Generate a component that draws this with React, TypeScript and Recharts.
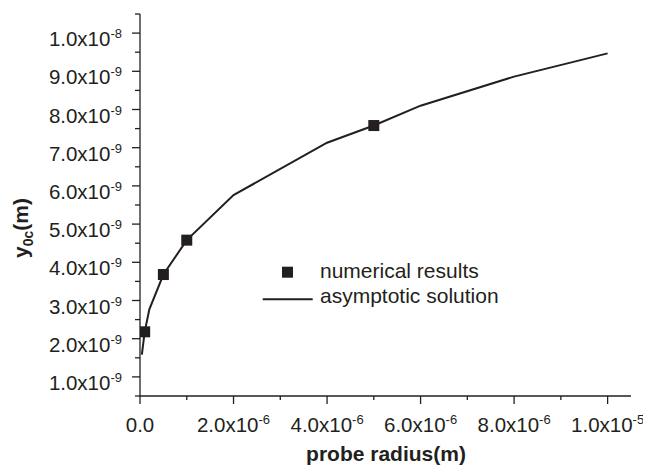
import React from "react";
import {
  ComposedChart,
  Line,
  Scatter,
  XAxis,
  YAxis,
  Legend,
} from "recharts";

// asymptotic solution (probe radius in m, y0c in m)
const asymRadius = [4e-8, 1e-7, 2e-7, 5e-7, 1e-6, 2e-6, 4e-6, 5e-6, 6e-6, 8e-6, 1e-5];
const asymY0c = [1.58e-9, 2.18e-9, 2.77e-9, 3.68e-9, 4.58e-9, 5.76e-9, 7.13e-9, 7.58e-9, 8.1e-9, 8.86e-9, 9.47e-9];

// numerical results
const numRadius = [1e-7, 5e-7, 1e-6, 5e-6];
const numY0c = [2.18e-9, 3.68e-9, 4.58e-9, 7.58e-9];

const xTicks = [0, 1e-6, 2e-6, 3e-6, 4e-6, 5e-6, 6e-6, 7e-6, 8e-6, 9e-6, 1e-5];
const xTickLabels: (string[] | null)[] = [
  ["0.0", ""], null, ["2.0x10", "-6"], null, ["4.0x10", "-6"], null,
  ["6.0x10", "-6"], null, ["8.0x10", "-6"], null, ["1.0x10", "-5"],
];

const yTicks = [
  5e-10, 1e-9, 1.5e-9, 2e-9, 2.5e-9, 3e-9, 3.5e-9, 4e-9, 4.5e-9, 5e-9, 5.5e-9,
  6e-9, 6.5e-9, 7e-9, 7.5e-9, 8e-9, 8.5e-9, 9e-9, 9.5e-9, 1e-8, 1.05e-8,
];
const yTickLabels: (string[] | null)[] = [
  null, ["1.0x10", "-9"], null, ["2.0x10", "-9"], null, ["3.0x10", "-9"], null,
  ["4.0x10", "-9"], null, ["5.0x10", "-9"], null, ["6.0x10", "-9"], null,
  ["7.0x10", "-9"], null, ["8.0x10", "-9"], null, ["9.0x10", "-9"], null,
  ["1.0x10", "-8"], null,
];

const INK = "#231f20";
const FONT = "'Liberation Sans', Arial, Helvetica, sans-serif";

const asymData = asymRadius.map((x, i) => ({ x, y: asymY0c[i] }));
const numData = numRadius.map((x, i) => ({ x, y: numY0c[i] }));

const YTick = (props: any) => {
  const { x, y, index } = props;
  const lab = yTickLabels[index];
  return (
    <g>
      <line x1={x - (lab ? 8 : 5)} x2={x} y1={y} y2={y} stroke={INK} strokeWidth={1.3} />
      {lab && (
        <text x={x - 18} y={y + 13} textAnchor="end" fontSize={20.5} fill={INK} fontFamily={FONT}>
          {lab[0]}
          <tspan fontSize={13} dy={-8}>{lab[1]}</tspan>
        </text>
      )}
    </g>
  );
};

const XTick = (props: any) => {
  const { x, y, index } = props;
  const lab = xTickLabels[index];
  return (
    <g>
      <line x1={x} x2={x} y1={y} y2={y + (lab ? 8 : 4)} stroke={INK} strokeWidth={1.3} />
      {lab && (
        <text x={x} y={y + 36} textAnchor="middle" fontSize={20.5} fill={INK} fontFamily={FONT}>
          {lab[0]}
          {lab[1] && <tspan fontSize={13} dy={-8}>{lab[1]}</tspan>}
        </text>
      )}
    </g>
  );
};

const Square = (props: any) => {
  const { cx, cy } = props;
  return <rect x={cx - 5.5} y={cy - 5.5} width={11} height={11} fill={INK} />;
};

const XTitle = () => (
  <text x={378} y={453} textAnchor="middle" fontSize={21} fontWeight="bold" fill={INK} fontFamily={FONT}>
    probe radius(m)
  </text>
);

const YTitle = () => (
  <text
    transform="translate(20,220) rotate(-90)"
    textAnchor="middle"
    fontSize={21}
    fontWeight="bold"
    fill={INK}
    fontFamily={FONT}
  >
    y<tspan fontSize={14} dy={5}>0c</tspan>
    <tspan dy={-5}>(m)</tspan>
  </text>
);

const LegendBox = () => (
  <svg width={270} height={60} style={{ display: "block" }}>
    <rect x={24} y={8.7} width={11} height={11} fill={INK} />
    <text x={62} y={20.3} fontSize={21} fill={INK} fontFamily={FONT}>numerical results</text>
    <line x1={4.7} x2={54.7} y1={41.3} y2={41.3} stroke={INK} strokeWidth={2} />
    <text x={62} y={45.3} fontSize={21} fill={INK} fontFamily={FONT}>asymptotic solution</text>
  </svg>
);

export default function App() {
  return (
    <div style={{ width: 643, height: 458 }}>
      <ComposedChart
        width={643}
        height={458}
        margin={{ top: 6, right: 20, left: 0, bottom: 0 }}
        style={{ fontFamily: FONT }}
      >
        <XAxis
          dataKey="x"
          type="number"
          domain={[0, 1.05e-5]}
          ticks={xTicks}
          interval={0}
          allowDataOverflow
          height={70}
          tickSize={0}
          tickMargin={0}
          tickLine={false}
          tick={<XTick />}
          axisLine={{ stroke: INK, strokeWidth: 1.3 }}
          label={<XTitle />}
        />
        <YAxis
          dataKey="y"
          type="number"
          domain={[5e-10, 1.05e-8]}
          ticks={yTicks}
          interval={0}
          allowDataOverflow
          width={132}
          tickSize={0}
          tickMargin={0}
          tickLine={false}
          tick={<YTick />}
          axisLine={{ stroke: INK, strokeWidth: 1.3 }}
          label={<YTitle />}
        />
        <Legend
          layout="horizontal"
          align="center"
          verticalAlign="middle"
          content={<LegendBox />}
          wrapperStyle={{ position: "absolute", left: 250, top: 250, width: 270 }}
        />
        <Line
          data={asymData}
          dataKey="y"
          type="linear"
          stroke={INK}
          strokeWidth={2}
          dot={false}
          activeDot={false}
          isAnimationActive={false}
        />
        <Scatter
          data={numData}
          dataKey="y"
          fill={INK}
          shape={<Square />}
          isAnimationActive={false}
        />
      </ComposedChart>
    </div>
  );
}
